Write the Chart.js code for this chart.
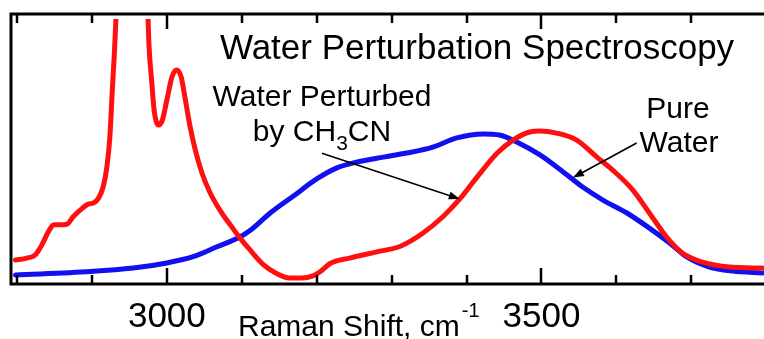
<!DOCTYPE html>
<html>
<head>
<meta charset="utf-8">
<script src="https://cdn.jsdelivr.net/npm/chart.js@4.4.1/dist/chart.umd.min.js"></script>
<style>
  html, body { margin: 0; padding: 0; background: #fff; }
  #wrap { width: 764px; height: 339px; }
</style>
</head>
<body>
<div id="wrap"><canvas id="chart" width="764" height="339"></canvas></div>
<script>
// Data (Raman shift in cm-1, intensity in arbitrary units)
const perturbedShift = [2798, 2813, 2824, 2833, 2842, 2849, 2858, 2867, 2875, 2887, 2895, 2902, 2909, 2915, 2920, 2924, 2927, 2930, 2932,
    2945, 2953, 2962,
    2975, 2976, 2980, 2983, 2989, 2994, 3000, 3007, 3013, 3019, 3024, 3031, 3038, 3047, 3058, 3073, 3087, 3098, 3111, 3128, 3147, 3164,
    3180, 3195, 3205, 3218, 3244, 3280, 3311, 3342, 3368, 3391, 3414, 3441, 3462, 3484, 3498, 3520, 3547, 3574, 3595, 3622, 3644, 3667,
    3688, 3715, 3751, 3795];
const perturbedIntensity = [8.9, 9.6, 10.7, 14.4, 19.4, 21.9, 21.9, 22.2, 24.9, 28.0, 29.6, 30.0, 31.9, 36.0, 43.4, 54.6, 70.7, 85.6, 97.8,
    160, 200, 160,
    97.8, 89.3, 74.4, 64.4, 58.9, 60.7, 68.1, 76.8, 79.3, 76.8, 69.4, 58.3, 49.6, 41.0, 33.6, 26.4, 21.0, 16.9, 12.6, 7.4, 3.8, 2.2,
    2.2, 3.0, 4.6, 7.6, 9.6, 11.9, 13.9, 18.9, 24.8, 31.5, 39.6, 48.5, 53.3, 56.3, 56.7, 55.9, 53.3, 47.0, 42.2, 34.8, 26.3, 17.4,
    11.5, 8.1, 6.3, 5.9];

const pureShift = [2798, 2898, 2955, 3000, 3035, 3067, 3098, 3111, 3138, 3169, 3200, 3227, 3254, 3289, 3320, 3355, 3387, 3422, 3444,
    3467, 3498, 3529, 3555, 3582, 3614, 3644, 3671, 3694, 3724, 3755, 3795];
const pureIntensity = [3.3, 4.6, 5.9, 7.8, 10.1, 13.8, 17.5, 19.8, 26.3, 32.6, 38.9, 43.0, 45.2, 47.0, 48.5, 50.7, 54.1, 55.6, 55.2,
    52.6, 47.8, 41.5, 35.9, 31.1, 26.3, 20.7, 15.2, 10.0, 6.3, 4.8, 4.1];

const shiftTicks = [2800, 2900, 3000, 3100, 3200, 3300, 3400, 3500, 3600, 3700];
const labelledTicks = [3000, 3500];

const FONT = "'Liberation Sans', Arial, sans-serif";

function toPoints(xs, ys) {
    return xs.map((x, i) => ({ x: x, y: ys[i] }));
}

// Frame, inward ticks, labels and annotations
const framePlugin = {
    id: 'frame',
    afterDatasetsDraw(chart) {
        const ctx = chart.ctx;
        const area = chart.chartArea;
        const xs = chart.scales.x;
        const ys = chart.scales.y;

        ctx.save();
        ctx.strokeStyle = '#000';
        ctx.lineWidth = 3;
        ctx.beginPath();
        ctx.moveTo(area.right + 2, area.top);
        ctx.lineTo(area.left, area.top);
        ctx.lineTo(area.left, area.bottom);
        ctx.lineTo(area.right + 2, area.bottom);
        ctx.stroke();

        // ticks on top and bottom, pointing inward
        ctx.lineWidth = 2.5;
        shiftTicks.forEach(v => {
            const px = Math.round(xs.getPixelForValue(v));
            const major = labelledTicks.includes(v);
            ctx.beginPath();
            ctx.moveTo(px, area.bottom);
            ctx.lineTo(px, area.bottom - (major ? 16 : 9));
            ctx.moveTo(px, area.top);
            ctx.lineTo(px, area.top + (major ? 15 : 9));
            ctx.stroke();
        });

        // tick labels
        ctx.fillStyle = '#000';
        ctx.textBaseline = 'alphabetic';
        ctx.textAlign = 'center';
        ctx.font = '35px ' + FONT;
        labelledTicks.forEach(v => {
            ctx.fillText(String(v), xs.getPixelForValue(v), 327);
        });

        // axis title
        ctx.textAlign = 'left';
        ctx.font = '30px ' + FONT;
        ctx.fillText('Raman Shift, cm', 238, 336);
        const w = ctx.measureText('Raman Shift, cm').width;
        ctx.font = '20px ' + FONT;
        ctx.fillText('-1', 238 + w + 2, 317);

        // title
        ctx.textAlign = 'center';
        ctx.font = '35px ' + FONT;
        ctx.fillText('Water Perturbation Spectroscopy', 477, 59);

        // labels for the curves
        ctx.font = '30px ' + FONT;
        ctx.fillText('Water Perturbed', 322, 106);
        ctx.fillText('Pure', 678, 118);
        ctx.fillText('Water', 679, 152);

        // "by CH3CN" with subscript
        const p1 = 'by CH', p2 = '3', p3 = 'CN';
        ctx.font = '30px ' + FONT;
        const w1 = ctx.measureText(p1).width;
        const w3 = ctx.measureText(p3).width;
        ctx.font = '21px ' + FONT;
        const w2 = ctx.measureText(p2).width;
        let sx = 322 - (w1 + w2 + w3) / 2;
        ctx.textAlign = 'left';
        ctx.font = '30px ' + FONT;
        ctx.fillText(p1, sx, 141);
        ctx.font = '21px ' + FONT;
        ctx.fillText(p2, sx + w1, 150);
        ctx.font = '30px ' + FONT;
        ctx.fillText(p3, sx + w1 + w2, 141);

        // arrows pointing at the curves
        const arrow = (x0, y0, x1, y1) => {
            const ax = xs.getPixelForValue(x0), ay = ys.getPixelForValue(y0);
            const bx = xs.getPixelForValue(x1), by = ys.getPixelForValue(y1);
            const ang = Math.atan2(by - ay, bx - ax);
            const len = 11, half = 4;
            ctx.lineWidth = 1.6;
            ctx.beginPath();
            ctx.moveTo(ax, ay);
            ctx.lineTo(bx - Math.cos(ang) * len * 0.8, by - Math.sin(ang) * len * 0.8);
            ctx.stroke();
            ctx.beginPath();
            ctx.moveTo(bx, by);
            ctx.lineTo(bx - Math.cos(ang) * len - Math.sin(ang) * half, by - Math.sin(ang) * len + Math.cos(ang) * half);
            ctx.lineTo(bx - Math.cos(ang) * len + Math.sin(ang) * half, by - Math.sin(ang) * len - Math.cos(ang) * half);
            ctx.closePath();
            ctx.fill();
        };
        arrow(3207, 48.4, 3391, 31.5);
        arrow(3627, 52.2, 3542, 39.4);

        ctx.restore();
    }
};

new Chart(document.getElementById('chart').getContext('2d'), {
    type: 'line',
    data: {
        datasets: [
            {
                label: 'Water Perturbed by CH3CN',
                data: toPoints(perturbedShift, perturbedIntensity),
                borderColor: '#ff1010',
                borderWidth: 5,
                cubicInterpolationMode: 'monotone',
                clip: { left: 0, top: -5, right: 0, bottom: 0 }
            },
            {
                label: 'Pure Water',
                data: toPoints(pureShift, pureIntensity),
                borderColor: '#1010f0',
                borderWidth: 5,
                cubicInterpolationMode: 'monotone',
                clip: { left: 0, top: -5, right: 0, bottom: 0 }
            }
        ]
    },
    options: {
        responsive: false,
        animation: false,
        devicePixelRatio: 1,
        layout: { padding: { left: 11, top: 14, right: 0, bottom: 55 } },
        elements: { point: { radius: 0 }, line: { borderCapStyle: 'round', borderJoinStyle: 'round' } },
        scales: {
            x: { type: 'linear', min: 2792, max: 3797, display: false },
            y: { min: 0, max: 100, display: false }
        },
        plugins: {
            legend: { display: false },
            tooltip: { enabled: false }
        }
    },
    plugins: [framePlugin]
});
</script>
</body>
</html>
